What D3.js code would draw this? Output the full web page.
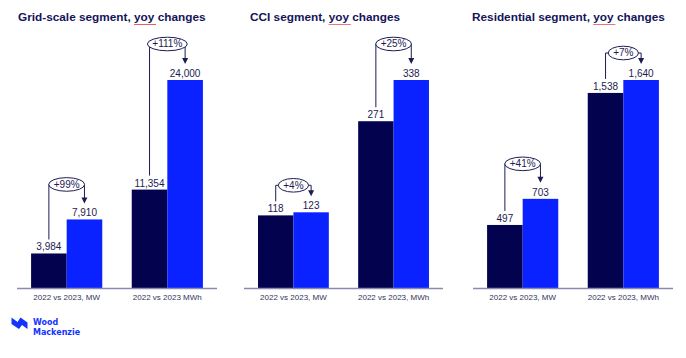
<!DOCTYPE html>
<html><head><meta charset="utf-8">
<script src="https://cdn.jsdelivr.net/npm/d3@7"></script>
<style>body{margin:0;background:#fff;} svg{display:block;font-family:"Liberation Sans",Arial,sans-serif;}</style>
</head><body><svg id="c" width="686" height="358"></svg>
<script>
const titles = ["Grid-scale segment, yoy changes", "CCI segment, yoy changes", "Residential segment, yoy changes"];
const categories = [["2022 vs 2023, MW", "2022 vs 2023 MWh"], ["2022 vs 2023, MW", "2022 vs 2023, MWh"], ["2022 vs 2023, MW", "2022 vs 2023, MWh"]];
const series = ["2022", "2023"];
const values2022 = [[3984, 11354], [118, 271], [497, 1538]];
const values2023 = [[7910, 24000], [123, 338], [703, 1640]];
const changes = [["+99%", "+111%"], ["+4%", "+25%"], ["+41%", "+7%"]];

// layout (style only)
const panelRanges = [[17, 217], [244, 443], [473, 673]];
const titleX = [18, 250, 472];
const ellipseRise = [[35, 36], [27, 36], [35, 27]];
const baseY = 288, topY = 80;
const cDark = "#02024f", cBlue = "#0a22ff", cText = "#1c1c50", cAxis = "#8a8ab0";

const svg = d3.select("#c");

titles.forEach((t, p) => {
  const g = svg.append("g");
  const title = g.append("text").attr("x", titleX[p]).attr("y", 21)
    .attr("font-size", 11.8).attr("font-weight", "bold").attr("fill", "#14145a").text(t);
  const node = title.node();
  const idx = t.indexOf("yoy");
  if (idx >= 0) {
    const sx = titleX[p] + node.getSubStringLength(0, idx);
    const w = node.getSubStringLength(idx, 3);
    let d = `M${sx},25`;
    for (let x = sx; x < sx + w; x += 2) d += ` L${x + 1},24 L${x + 2},25`;
    g.append("path").attr("d", d).attr("fill", "none").attr("stroke", "#e03030").attr("stroke-width", 0.8);
  }

  const rows = categories[p].map((c, i) => ({cat: c, v: [values2022[p][i], values2023[p][i]], ch: changes[p][i], i}));
  const y = d3.scaleLinear().domain([0, d3.max(rows, r => d3.max(r.v))]).range([baseY, topY]);
  const x0 = d3.scaleBand().domain(categories[p]).range(panelRanges[p]).paddingInner(0.293).paddingOuter(0.14);
  const x1 = d3.scaleBand().domain(series).range([0, x0.bandwidth()]).padding(0);

  rows.forEach(r => {
    const gx = x0(r.cat);
    series.forEach((s, k) => {
      g.append("rect").attr("x", gx + x1(s)).attr("y", y(r.v[k]))
        .attr("width", x1.bandwidth()).attr("height", baseY - y(r.v[k]))
        .attr("fill", k === 0 ? cDark : cBlue);
      g.append("text").attr("x", gx + x1(s) + x1.bandwidth() / 2).attr("y", y(r.v[k]) - 3)
        .attr("text-anchor", "middle").attr("font-size", 10).attr("fill", cText)
        .text(d3.format(",")(r.v[k]));
    });
    g.append("text").attr("x", gx + x0.bandwidth() / 2).attr("y", 300)
      .attr("text-anchor", "middle").attr("font-size", 8).attr("fill", "#33335a").text(r.cat);

    const lx = gx + x1(series[0]) + x1.bandwidth() / 2;
    const rx = gx + x1(series[1]) + x1.bandwidth() / 2;
    const yD = y(r.v[0]), yB = y(r.v[1]);
    const cy = yB - ellipseRise[p][r.i];
    const tip = yB - 16;
    g.append("path").attr("d", `M${lx},${yD - 14} V${cy} H${rx} V${tip - 5}`)
      .attr("fill", "none").attr("stroke", "#1c1c55").attr("stroke-width", 1);
    g.append("path").attr("d", `M${rx - 3},${tip - 6} L${rx + 3},${tip - 6} L${rx},${tip} Z`).attr("fill", "#1c1c55");
    const cx = (lx + rx) / 2;
    const el = g.append("ellipse").attr("cx", cx).attr("cy", cy).attr("ry", 6.8)
      .attr("fill", "#fff").attr("stroke", "#1c1c55").attr("stroke-width", 1);
    const lbl = g.append("text").attr("x", cx).attr("y", cy + 3.4).attr("text-anchor", "middle")
      .attr("font-size", 10).attr("fill", cText).text(r.ch);
    el.attr("rx", lbl.node().getComputedTextLength() / 2 + 5);
  });

  g.append("line").attr("x1", panelRanges[p][0]).attr("x2", panelRanges[p][1])
    .attr("y1", baseY + 0.5).attr("y2", baseY + 0.5).attr("stroke", cAxis).attr("stroke-width", 1.5);
});

// logo
const logo = svg.append("g");
logo.append("path").attr("d", "M11.5,317.5 L17.5,322 L20.5,317.5 L27.5,322.5 L27.5,329 L22,325 L19,329 L11.5,324 Z").attr("fill", "#1433ff");
const lt = logo.append("text").attr("font-size", 8).attr("font-weight", "bold")
  .style("font-family", "'DejaVu Sans', sans-serif").attr("fill", "#1433ff");
lt.append("tspan").attr("x", 33).attr("y", 325).text("Wood");
lt.append("tspan").attr("x", 33).attr("y", 334.5).text("Mackenzie");
</script></body></html>
